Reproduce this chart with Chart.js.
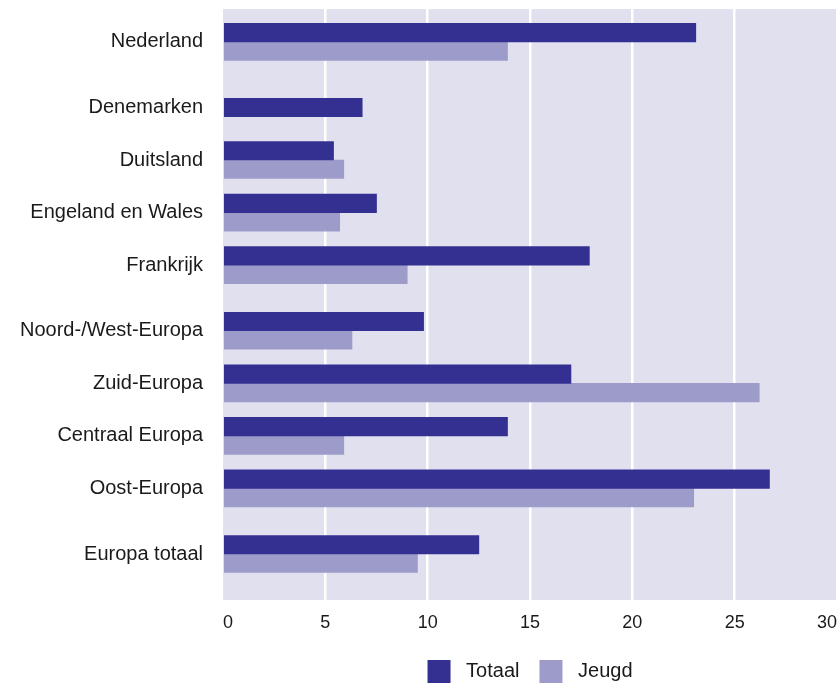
<!DOCTYPE html>
<html lang="nl">
<head>
    <meta charset="UTF-8">
    <title>Totaal en jeugd per land</title>
    <script src="https://cdn.jsdelivr.net/npm/chart.js"></script>
    <style>
        html, body { margin: 0; padding: 0; background: #fff; overflow: hidden; }
        #wrap { width: 837px; height: 687px; position: relative; }
    </style>
</head>
<body>
    <div id="wrap"><canvas id="chart"></canvas></div>

    <script>
        const categories = ['Nederland', 'Denemarken', 'Duitsland', 'Engeland en Wales', 'Frankrijk',
            'Noord-/West-Europa', 'Zuid-Europa', 'Centraal Europa', 'Oost-Europa', 'Europa totaal'];
        const totaal = [23.1, 6.8, 5.4, 7.5, 17.9, 9.8, 17.0, 13.9, 26.7, 12.5];
        const jeugd = [13.9, null, 5.9, 5.7, 9.0, 6.3, 26.2, 5.9, 23.0, 9.5];
        const xTicks = [0, 5, 10, 15, 20, 25, 30];
        // rows that start a new block (extra space above them)
        const groupStarts = ['Denemarken', 'Noord-/West-Europa', 'Europa totaal'];

        // spread the rows over quarter-row slots so the blocks get a little extra space
        const slotLabels = ['', ''];
        const slotTotaal = [null, null];
        const slotJeugd = [null, null];
        categories.forEach((name, i) => {
            if (groupStarts.includes(name)) {
                slotLabels.push(''); slotTotaal.push(null); slotJeugd.push(null);
            }
            slotLabels.push(name); slotTotaal.push(totaal[i]); slotJeugd.push(jeugd[i]);
            for (let k = 0; k < 3; k++) {
                slotLabels.push(''); slotTotaal.push(null); slotJeugd.push(null);
            }
        });

        const plotBackground = {
            id: 'plotBackground',
            beforeDraw(chart) {
                const { ctx, chartArea: a } = chart;
                ctx.save();
                ctx.fillStyle = '#e1e0ef';
                ctx.fillRect(a.left, a.top, a.right - a.left, a.bottom - a.top);
                ctx.restore();
            }
        };

        const font = "'Liberation Sans', Arial, sans-serif";

        new Chart(document.getElementById('chart'), {
            type: 'bar',
            data: {
                labels: slotLabels,
                datasets: [
                    { label: 'Totaal', data: slotTotaal, backgroundColor: '#343092' },
                    { label: 'Jeugd', data: slotJeugd, backgroundColor: '#9d9bc9' }
                ]
            },
            options: {
                indexAxis: 'y',
                responsive: true,
                maintainAspectRatio: false,
                animation: false,
                skipNull: true,
                barThickness: 18.5,
                layout: { padding: { top: 9, left: 0, right: 0, bottom: -6 } },
                plugins: {
                    legend: {
                        position: 'bottom',
                        fullSize: false,
                        labels: {
                            boxWidth: 23,
                            boxHeight: 23,
                            padding: 20,
                            color: '#1a1a1a',
                            font: { family: font, size: 20 },
                            generateLabels: (chart) =>
                                Chart.defaults.plugins.legend.labels.generateLabels(chart)
                                    .map(item => ({ ...item, text: ' ' + item.text }))
                        }
                    },
                    tooltip: { enabled: false }
                },
                scales: {
                    x: {
                        min: xTicks[0],
                        max: xTicks[xTicks.length - 1],
                        afterBuildTicks: (scale) => { scale.ticks = xTicks.map(v => ({ value: v })); },
                        afterFit: (scale) => {
                            scale.paddingLeft = 0;
                            scale.paddingRight = 0;
                            scale.height = 40;
                        },
                        border: { display: false },
                        grid: {
                            color: (c) => (c.tick && c.tick.value === 0) ? 'rgba(0,0,0,0)' : '#ffffff',
                            lineWidth: 2.5,
                            drawTicks: false
                        },
                        ticks: {
                            align: 'inner',
                            padding: 12,
                            color: '#1a1a1a',
                            font: { family: font, size: 18 }
                        }
                    },
                    y: {
                        afterFit: (scale) => {
                            scale.paddingTop = 0;
                            scale.paddingBottom = 0;
                        },
                        border: { display: false },
                        grid: { display: false, drawTicks: false },
                        ticks: {
                            autoSkip: false,
                            padding: 20,
                            color: '#1a1a1a',
                            font: { family: font, size: 20 }
                        }
                    }
                }
            },
            plugins: [plotBackground]
        });
    </script>
</body>
</html>
